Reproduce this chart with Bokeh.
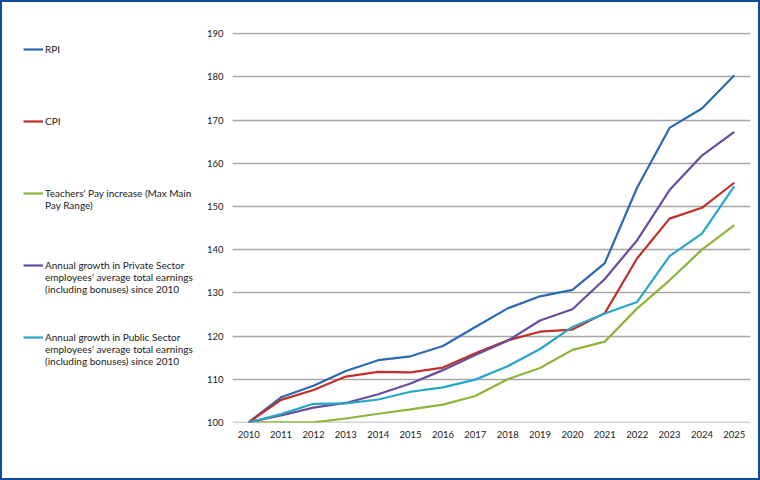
from bokeh.plotting import figure
from bokeh.models import Legend, LegendItem, FactorRange, Range1d
from bokeh.layouts import row, column
from bokeh.embed import file_html
from bokeh.resources import INLINE

years = [str(y) for y in range(2010, 2026)]
rpi = [100, 105.8, 108.5, 111.9, 114.4, 115.3, 117.7, 122.1, 126.4, 129.2, 130.7, 136.9, 154.4, 168.2, 172.7, 180.4]
cpi = [100, 105.2, 107.5, 110.6, 111.7, 111.6, 112.7, 116.0, 119.0, 121.0, 121.5, 125.3, 138.0, 147.2, 149.7, 155.5]
teachers = [100, 100, 100, 100.9, 102.0, 103.0, 104.1, 106.1, 110.0, 112.6, 116.8, 118.7, 126.4, 132.9, 140.0, 145.7]
private = [100, 101.6, 103.4, 104.5, 106.5, 109.0, 112.1, 115.6, 118.9, 123.6, 126.2, 133.2, 142.2, 153.8, 161.8, 167.3]
public = [100, 101.9, 104.3, 104.4, 105.3, 107.1, 108.1, 109.9, 113.0, 117.0, 122.1, 125.2, 127.9, 138.5, 143.7, 154.7]
y_ticks = list(range(100, 191, 10))

label_lines = [
    ["RPI"],
    ["CPI"],
    ["Teachers' Pay increase (Max Main", "Pay Range)"],
    ["Annual growth in Private Sector", "employees' average total earnings", "(including bonuses) since 2010"],
    ["Annual growth in Public Sector", "employees' average total earnings", "(including bonuses) since 2010"],
]
colors = ["#2a6ab3", "#c0302a", "#8db53c", "#6a4c9c", "#27a6c8"]
series = [rpi, cpi, teachers, private, public]

FONT = "Lato"
TXT = "#1a1a1a"

# ---- chart ----
p = figure(width=556, height=476, x_range=FactorRange(factors=years, range_padding=0),
           y_range=Range1d(99.97, 190.3), output_backend="svg", toolbar_location=None,
           min_border_left=30, min_border_right=8, min_border_top=30, min_border_bottom=56)
p.outline_line_color = None
p.border_fill_color = "white"
p.xgrid.grid_line_color = None
p.ygrid.grid_line_color = "#a6a6a6"
p.ygrid.grid_line_width = 1.5
p.yaxis.ticker = y_ticks
p.yaxis.axis_line_color = None
p.xaxis.axis_line_color = None
for ax in (p.xaxis[0], p.yaxis[0]):
    ax.major_tick_line_color = None
    ax.minor_tick_line_color = None
    ax.major_tick_out = 0
    ax.major_tick_in = 0
    ax.minor_tick_out = 0
    ax.minor_tick_in = 0
    ax.major_label_text_font = FONT
    ax.major_label_text_font_size = "9.5px"
    ax.major_label_text_color = TXT
p.yaxis.major_label_standoff = 9
p.xaxis.major_label_standoff = 8

for col, s in zip(colors, series):
    p.line(years, s, line_color=col, line_width=2.2)

# ---- legend panel ----
pl = figure(width=200, height=476, x_range=Range1d(0, 1), y_range=Range1d(0, 1),
            output_backend="svg", toolbar_location=None,
            min_border_left=0, min_border_right=0, min_border_top=0, min_border_bottom=0)
pl.axis.visible = False
pl.grid.visible = False
pl.outline_line_color = None
pl.border_fill_color = "white"
items = []
for lines, col, s in zip(label_lines, colors, series):
    # legend proxy: same series, drawn outside this panel's visible range
    r = pl.line([int(y) for y in years], s, line_color=col, line_width=2.2)
    # blank lines above so the sample line sits beside the first text line
    lab = "\n".join([" "] * (len(lines) - 1) + lines)
    items.append(LegendItem(label=lab, renderers=[r]))
leg = Legend(items=items, location=(21, 55), label_text_font=FONT, label_text_font_size="10px",
             label_text_color=TXT, glyph_width=20, glyph_height=12, label_standoff=2,
             spacing=12, padding=0, margin=0, border_line_color=None, background_fill_alpha=0,
             label_height=60, label_text_line_height=1.2)
pl.add_layout(leg, "center")

layout = column(row(pl, p, spacing=0), spacing=0)
layout.styles = {"border": "2px solid #0d4c9c", "background-color": "white"}

open("out.html", "w").write(file_html(layout, INLINE))
